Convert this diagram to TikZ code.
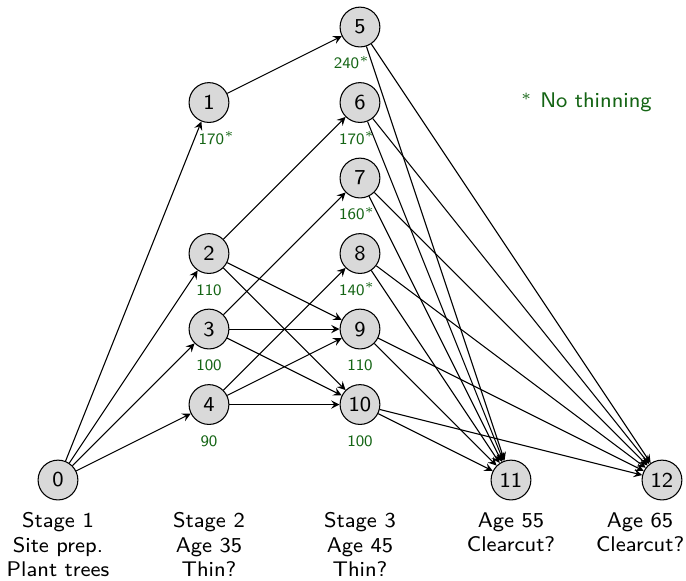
\documentclass[tikz,border=0pt]{standalone}
\usetikzlibrary{positioning}
\definecolor{costgreen}{RGB}{20,100,20}
\begin{document}
\begin{tikzpicture}[>=stealth,
		stage/.style={circle, draw, fill=gray!30, minimum size=15pt, inner sep=0pt, font=\sffamily\fontsize{8}{9.5}\selectfont},
		cost/.style={text=costgreen, inner sep=1pt, text height=4.2pt, text depth=0pt, font=\sffamily\fontsize{6}{7}\selectfont},
		caption/.style={align=center, inner sep=0pt, font=\sffamily\fontsize{8}{9.3}\selectfont}]
		\useasboundingbox (-0.768,-1.325) rectangle (8.318,6.358);

		% stages
		\node [stage] (n0) at (0,0) {0};
		\node [stage] (n1) at (2,5) {1};
		\node [stage] (n2) at (2,3) {2};
		\node [stage] (n3) at (2,2) {3};
		\node [stage] (n4) at (2,1) {4};
		\node [stage] (n5) at (4,6) {5};
		\node [stage] (n6) at (4,5) {6};
		\node [stage] (n7) at (4,4) {7};
		\node [stage] (n8) at (4,3) {8};
		\node [stage] (n9) at (4,2) {9};
		\node [stage] (n10) at (4,1) {10};
		\node [stage] (n11) at (6,0) {11};
		\node [stage] (n12) at (8,0) {12};

		% costs
		\node [cost, below=2.6pt of n1, xshift=3pt] (c1) {170$^*$};
		\node [cost, below=2.6pt of n2] (c2) {110};
		\node [cost, below=2.6pt of n3] (c3) {100};
		\node [cost, below=2.6pt of n4] (c4) {90};
		\node [cost, below=2.6pt of n5, xshift=-3pt] (c5) {240$^*$};
		\node [cost, below=2.6pt of n6, xshift=-1pt] (c6) {170$^*$};
		\node [cost, below=2.6pt of n7, xshift=-1pt] (c7) {160$^*$};
		\node [cost, below=2.6pt of n8, xshift=-1pt] (c8) {140$^*$};
		\node [cost, below=2.6pt of n9] (c9) {110};
		\node [cost, below=2.6pt of n10] (c10) {100};

		\node [text=costgreen, font=\sffamily\fontsize{8}{9.5}\selectfont] (note) at (7,5) {$^*$ No thinning};

		% captions
		\node [caption, below=4.3pt of n0] (t0) {Stage 1\\Site prep.\\Plant trees};
		\node [caption, anchor=north] (t1) at (t0.north -| n4) {Stage 2\\Age 35\\Thin?};
		\node [caption, anchor=north] (t2) at (t0.north -| n10) {Stage 3\\Age 45\\Thin?};
		\node [caption, anchor=north] (t3) at (t0.north -| n11) {Age 55\\Clearcut?};
		\node [caption, anchor=north, xshift=-0.29cm] (t4) at (t0.north -| n12) {Age 65\\Clearcut?};

		% arcs
		\foreach \a/\b in {0/1, 0/2, 0/3, 0/4, 1/5, 2/6, 2/9, 2/10, 3/7, 3/9, 3/10, 4/8, 4/9, 4/10}
			\draw [->] (n\a) -- (n\b);
		\foreach \a in {5,...,10}
		{
			\draw [->] (n\a) -- (n11);
			\draw [->] (n\a) -- (n12);
		}

\end{tikzpicture}
\end{document}
